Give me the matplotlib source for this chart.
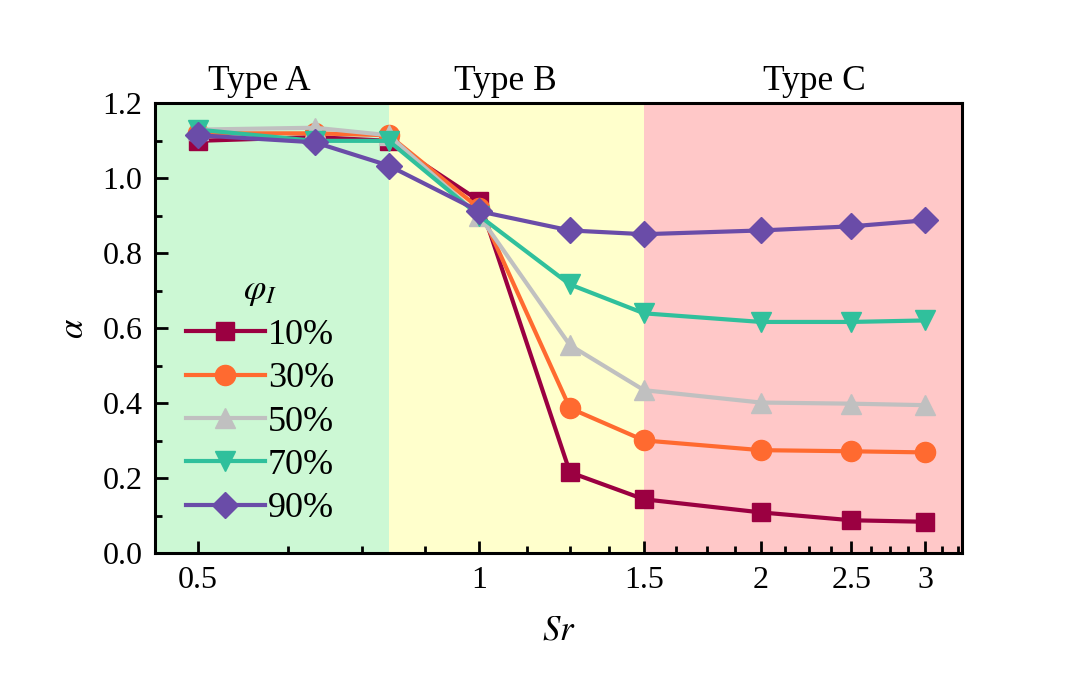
import numpy as np
import matplotlib
matplotlib.use("Agg")
import matplotlib.pyplot as plt
from matplotlib.ticker import FixedLocator, NullFormatter, MultipleLocator

plt.rcParams['font.family'] = ['Liberation Serif', 'DejaVu Serif']
plt.rcParams['mathtext.fontset'] = 'stix'

# data
sr = [0.5, 0.667, 0.8, 1.0, 1.25, 1.5, 2.0, 2.5, 3.0]
labels = ['10%', '30%', '50%', '70%', '90%']
a10 = [1.10, 1.11, 1.10, 0.94, 0.216, 0.144, 0.109, 0.088, 0.084]
a30 = [1.12, 1.12, 1.115, 0.92, 0.387, 0.301, 0.275, 0.272, 0.269]
a50 = [1.13, 1.135, 1.115, 0.90, 0.555, 0.435, 0.402, 0.399, 0.395]
a70 = [1.13, 1.10, 1.10, 0.90, 0.717, 0.640, 0.617, 0.617, 0.621]
a90 = [1.115, 1.096, 1.034, 0.912, 0.861, 0.851, 0.861, 0.872, 0.888]
series = [a10, a30, a50, a70, a90]
colors = ['#9b0041', '#ff6a30', '#c0c0c0', '#30c09c', '#6a4ca8']
markers = ['s', 'o', '^', 'v', 'D']
msizes = [12.5, 14.5, 15, 15, 13]

region_edges = [0.45, 0.8, 1.5, 3.28]
region_colors = ['#ccf8d4', '#ffffcc', '#ffc8c8']
region_names = ['Type A', 'Type B', 'Type C']
region_label_x = [0.582, 1.066, 2.28]

fig = plt.figure(figsize=(10.8, 6.89), dpi=100)
ax = fig.add_axes([0.1435, 0.197, 0.747, 0.653])

for i in range(3):
    ax.axvspan(region_edges[i], region_edges[i + 1], color=region_colors[i], lw=0, zorder=0)
    ax.text(region_label_x[i], 1.213, region_names[i], ha='center', va='bottom',
            fontsize=25.5, transform=ax.transData)

for y, c, m, ms, lab in zip(series, colors, markers, msizes, labels):
    ax.plot(sr, y, color=c, marker=m, markersize=ms, lw=3, label=lab, zorder=3)

ax.set_xscale('log')
ax.set_xlim(region_edges[0], region_edges[-1])
ax.set_ylim(0, 1.2)
major = [0.5, 1, 1.5, 2, 2.5, 3]
ax.xaxis.set_major_locator(FixedLocator(major))
ax.set_xticklabels(['0.5', '1', '1.5', '2', '2.5', '3'])
minor = [v for v in np.arange(0.5, 3.3, 0.125) if v not in major]
ax.xaxis.set_minor_locator(FixedLocator(minor))
ax.xaxis.set_minor_formatter(NullFormatter())
ax.yaxis.set_major_locator(MultipleLocator(0.2))
ax.yaxis.set_minor_locator(MultipleLocator(0.1))
ax.set_yticklabels([f'{v:.1f}' for v in ax.get_yticks()])

ax.tick_params(which='both', direction='in', top=False, right=False, width=2, labelsize=23)
ax.tick_params(which='major', length=9, pad=9)
ax.tick_params(which='minor', length=5)
for s in ax.spines.values():
    s.set_linewidth(2.2)

ax.set_xlabel(r'$Sr$', fontsize=25, labelpad=14)
ax.set_ylabel(r'$\alpha$', fontsize=25, labelpad=8)

leg = ax.legend(title=r'$\varphi_I$', loc='upper left', bbox_to_anchor=(0.02, 0.652),
                frameon=False, fontsize=26, title_fontsize=26, handlelength=2.2,
                handletextpad=0.08, labelspacing=0.28, borderaxespad=0)

fig.savefig('out.png', dpi=100)
